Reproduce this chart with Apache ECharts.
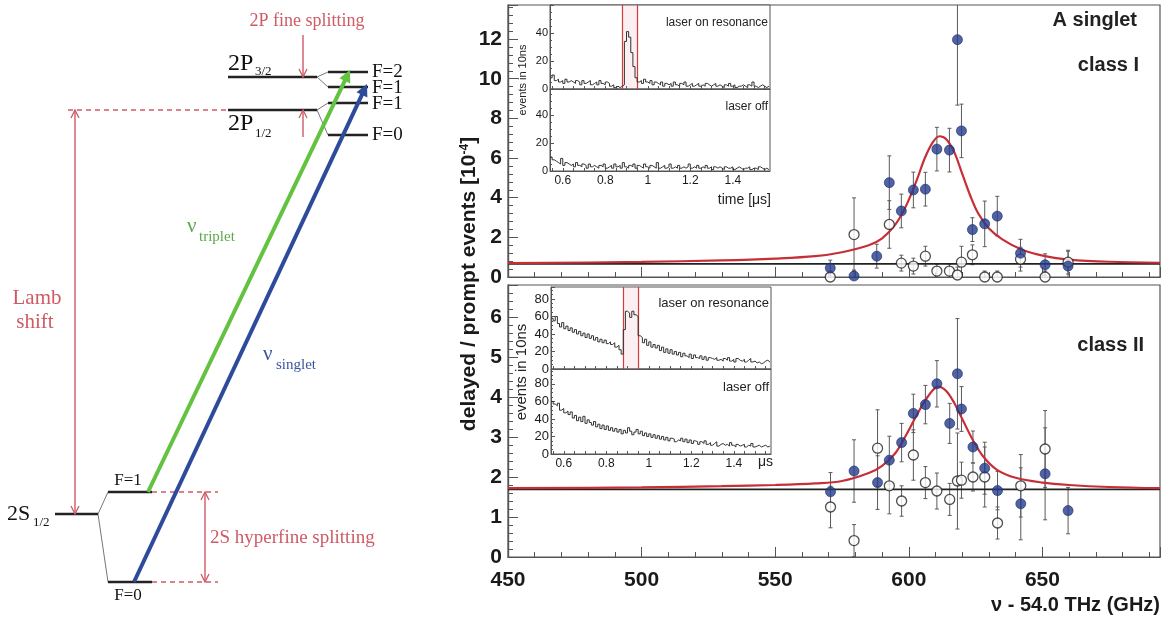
<!DOCTYPE html>
<html>
<head>
<meta charset="utf-8">
<script src="https://cdn.jsdelivr.net/npm/echarts@6/dist/echarts.min.js"></script>
<style>
html, body { margin: 0; padding: 0; background: #fff; }
#chart { width: 1166px; height: 618px; }
</style>
</head>
<body>
<div id="chart"></div>
<script>
// ---------- resonance scan, class I (top panel) ----------
const nuOnI   = [570.6, 579.5, 588.0, 592.7, 597.2, 601.7, 606.2, 610.5, 615.2, 618.2, 619.7, 623.8, 628.4, 633.1, 641.8, 651.0, 659.6];
const valOnI  = [0.45, 0.05, 1.05, 4.76, 3.33, 4.39, 4.43, 6.45, 6.40, 11.97, 7.37, 2.39, 2.68, 3.07, 1.20, 0.62, 0.55];
const errOnI  = [0.40, 0.30, 0.60, 1.35, 0.85, 0.90, 0.85, 1.10, 1.10, 3.30, 1.35, 0.60, 1.15, 1.00, 0.70, 0.55, 0.75];
const nuOffI  = [570.6, 579.5, 592.7, 597.2, 601.7, 606.2, 610.5, 615.2, 618.2, 619.7, 623.8, 628.4, 633.1, 641.8, 651.0, 659.6];
const valOffI = [0.00, 2.14, 2.65, 0.70, 0.55, 1.05, 0.30, 0.30, 0.10, 0.75, 1.12, 0.00, 0.00, 0.90, 0.00, 0.75];
const errOffI = [0.30, 1.85, 1.20, 0.40, 0.40, 0.50, 0.35, 0.35, 0.40, 0.80, 0.50, 0.30, 0.30, 0.60, 0.30, 0.60];
const fitNuI  = [450, 500, 530, 550, 565, 575, 585, 590, 595, 599, 603, 606, 609, 611.5, 614, 617, 620, 623, 626, 630, 635, 642, 651, 660, 675, 694];
const fitValI = [0.70, 0.76, 0.84, 0.93, 1.05, 1.25, 1.60, 1.95, 2.65, 3.60, 4.90, 6.00, 6.80, 7.10, 6.95, 6.30, 5.20, 4.10, 3.20, 2.45, 1.90, 1.40, 1.05, 0.88, 0.77, 0.72];

// ---------- resonance scan, class II (bottom panel) ----------
const nuOnII   = [570.7, 579.5, 588.3, 592.7, 597.3, 601.7, 606.2, 610.5, 615.3, 618.2, 619.7, 624.0, 628.4, 633.2, 641.9, 651.0, 659.6];
const valOnII  = [1.63, 2.15, 1.86, 2.42, 2.86, 3.59, 3.81, 4.33, 3.34, 4.58, 3.70, 2.75, 2.22, 1.66, 1.33, 2.08, 1.16];
const errOnII  = [0.48, 0.78, 0.67, 0.60, 0.48, 0.48, 0.48, 0.58, 0.50, 1.38, 0.56, 0.40, 0.65, 0.48, 0.90, 1.15, 0.58];
const nuOffII  = [570.7, 579.5, 588.3, 592.7, 597.3, 601.7, 606.2, 610.5, 615.3, 618.2, 619.7, 624.0, 628.4, 633.2, 641.9, 651.0];
const valOffII = [1.25, 0.41, 2.72, 1.78, 1.40, 2.55, 1.86, 1.65, 1.44, 1.90, 1.92, 2.00, 2.00, 0.85, 1.78, 2.70];
const errOffII = [0.52, 0.40, 0.96, 0.70, 0.38, 0.63, 0.40, 0.45, 0.40, 1.20, 0.45, 0.35, 0.75, 0.40, 0.78, 0.96];
const fitNuII  = [450, 500, 530, 550, 565, 575, 585, 590, 595, 599, 603, 607, 611, 614, 617, 620, 624, 628, 633, 640, 650, 660, 675, 694];
const fitValII = [1.72, 1.74, 1.77, 1.80, 1.84, 1.90, 2.10, 2.28, 2.60, 3.05, 3.55, 4.00, 4.26, 4.15, 3.85, 3.45, 2.92, 2.50, 2.18, 1.98, 1.86, 1.80, 1.75, 1.72];

// flat background (laser off level)
const bgNu  = [450, 694];
const bgI   = [0.66, 0.66];
const bgII  = [1.69, 1.69];

const xTickLabels    = [450, 500, 550, 600, 650];
const yTickLabelsI   = [0, 2, 4, 6, 8, 10, 12];
const yTickLabelsII  = [0, 1, 2, 3, 4, 5, 6];

// ---------- inset time spectra: events per 10 ns bin, from 0.54 us ----------
const binStart = 0.54;
const binWidth = 0.01;
const histOnI = [
  8, 10, 6, 7, 5, 6, 4, 7, 5, 6,
  5, 4, 6, 5, 3, 6, 4, 5, 6, 3,
  4, 5, 3, 6, 4, 3, 5, 4, 2, 3,
  1, 2, 1, 2, 3, 34, 41, 37, 26, 16,
  8, 5, 6, 4, 7, 5, 4, 6, 3, 5,
  4, 3, 5, 2, 4, 3, 4, 2, 5, 3,
  2, 4, 3, 5, 2, 3, 4, 2, 3, 4,
  2, 3, 2, 4, 3, 2, 3, 4, 2, 3,
  2, 1, 3, 2, 4, 2, 3, 1, 2, 2,
  3, 2, 1, 3, 2, 5, 2, 1, 2, 3,
  2, 1, 2];
const histOffI = [
  10, 8, 7, 6, 5, 9, 4, 6, 5, 4,
  5, 3, 6, 4, 3, 5, 4, 2, 5, 3,
  4, 3, 2, 4, 3, 5, 2, 3, 4, 2,
  5, 3, 4, 2, 6, 3, 2, 4, 3, 5,
  2, 4, 3, 2, 5, 3, 2, 4, 3, 2,
  6, 2, 3, 4, 2, 3, 5, 2, 3, 2,
  4, 2, 3, 2, 3, 5, 2, 3, 2, 4,
  2, 3, 2, 4, 2, 3, 1, 3, 2, 3,
  2, 1, 3, 2, 2, 3, 1, 2, 3, 2,
  1, 2, 2, 3, 1, 2, 2, 1, 3, 2,
  1, 2, 1];
const histOnII = [
  58, 55, 60, 52, 48, 53, 46, 49, 44, 47,
  42, 45, 40, 43, 38, 41, 36, 40, 35, 38,
  33, 36, 31, 34, 30, 33, 29, 31, 28, 30,
  25, 27, 22, 17, 45, 66, 64, 59, 66, 62,
  60, 38, 36, 30, 34, 27, 31, 25, 28, 24,
  27, 21, 25, 19, 23, 18, 22, 17, 20, 16,
  19, 14, 18, 15, 13, 17, 12, 16, 13, 12,
  15, 11, 14, 10, 13, 12, 11, 13, 10, 11,
  9, 12, 10, 13, 9, 11, 8, 12, 10, 9,
  11, 8, 10, 12, 8, 9, 7, 8, 6, 7,
  9, 10, 8];
const histOffII = [
  60, 57, 55, 58, 50, 52, 47, 49, 45, 48,
  41, 44, 38, 42, 37, 43, 35, 39, 36, 33,
  37, 31, 34, 29, 33, 28, 32, 27, 30, 26,
  29, 25, 28, 23, 27, 24, 30, 26, 22, 25,
  28, 23, 26, 21, 24, 20, 23, 19, 22, 18,
  21, 17, 20, 16, 19, 15, 18, 17, 14, 16,
  15, 18, 14, 17, 13, 16, 12, 15, 14, 11,
  14, 12, 15, 11, 13, 10, 12, 14, 9, 11,
  12, 10, 11, 9, 13, 10, 8, 11, 9, 10,
  11, 8, 10, 9, 12, 8, 9, 10, 8, 9,
  10, 8, 9];
const gateWindow = [0.884, 0.955];
const insetTickLabels = [0.6, 0.8, 1, 1.2, 1.4];
const insetTicks = [0.55, 0.6, 0.65, 0.7, 0.75, 0.8, 0.85, 0.9, 0.95, 1, 1.05, 1.1, 1.15, 1.2, 1.25, 1.3, 1.35, 1.4, 1.45, 1.5, 1.55];

// ---------- level scheme (left), drawn on a hidden pixel-like grid ----------
// [x1, y1, x2, y2, heads]  heads: 0 none, 1 at end, 2 both ends
const levelLines = [
  [228, 77, 317, 77], [228, 110, 317, 110],
  [328, 72, 368, 72], [328, 87, 368, 87], [328, 103, 368, 103], [328, 135, 368, 135],
  [55, 514, 98, 514], [108, 492, 152, 492], [108, 582, 152, 582]];
const forkLines = [
  [317, 77, 328, 72], [317, 77, 328, 87], [317, 110, 328, 103], [317, 110, 328, 135],
  [98, 514, 108, 492], [98, 514, 108, 582]];
const dashedLines = [[68, 110, 228, 110], [152, 492, 218, 492], [152, 582, 218, 582]];
const redArrows = [[75, 110, 75, 514, 2], [303, 35, 303, 77, 1], [303, 137, 303, 110, 1], [205, 492, 205, 582, 2]];
const tripletArrow = [[148, 492, 350, 70, 1]];
const singletArrow = [[134, 582, 367, 84, 1]];

const xMin = 450, xMax = 694;
const yMaxI = 13.72, yMaxII = 6.8;
const tMin = 0.54, tMax = 1.575;

const RED = '#cf5a66';
const GREEN = '#63c23f';
const BLUE = '#2d4a9b';
const SANS = '"Liberation Sans", Arial, sans-serif';
const SERIF = '"Liberation Serif", "DejaVu Serif", serif';

function arrowHead(from, to, color, size, open) {
  const ang = Math.atan2(to[1] - from[1], to[0] - from[0]);
  const w = size * 0.5;
  const bx = to[0] - size * Math.cos(ang), by = to[1] - size * Math.sin(ang);
  const p1 = [bx + w * Math.sin(ang), by - w * Math.cos(ang)];
  const p2 = [bx - w * Math.sin(ang), by + w * Math.cos(ang)];
  if (open) return { type: 'polyline', shape: { points: [p1, to, p2] }, style: { stroke: color, lineWidth: 1.3, fill: null } };
  return { type: 'polygon', shape: { points: [to, p1, p2] }, style: { fill: color } };
}

function segments(segs, color, width, dash, headSize, openHead) {
  return {
    type: 'custom', xAxisIndex: 0, yAxisIndex: 0, silent: true, z: 5,
    data: segs,
    renderItem: (params, api) => {
      const a = api.coord([api.value(0), api.value(1)]);
      const b = api.coord([api.value(2), api.value(3)]);
      const heads = api.value(4) || 0;
      let b2 = b;
      if (heads >= 1 && !openHead) {
        const ang = Math.atan2(b[1] - a[1], b[0] - a[0]);
        b2 = [b[0] - headSize * 0.8 * Math.cos(ang), b[1] - headSize * 0.8 * Math.sin(ang)];
      }
      const ch = [{ type: 'line', shape: { x1: a[0], y1: a[1], x2: b2[0], y2: b2[1] },
        style: { stroke: color, lineWidth: width, lineDash: dash || null } }];
      if (heads >= 1) ch.push(arrowHead(a, b, color, headSize, openHead));
      if (heads >= 2) ch.push(arrowHead(b, a, color, headSize, openHead));
      return { type: 'group', children: ch };
    }
  };
}

function errBars(nu, val, err, xi, yi, yMax) {
  return {
    type: 'custom', xAxisIndex: xi, yAxisIndex: yi, silent: true, z: 3,
    data: nu.map((x, i) => [x, val[i], err[i]]),
    renderItem: (params, api) => {
      const x = api.value(0), v = api.value(1), e = api.value(2);
      const a = api.coord([x, Math.max(v - e, 0)]);
      const b = api.coord([x, Math.min(v + e, yMax)]);
      const st = { stroke: '#5a5a5a', lineWidth: 1 };
      const ch = [{ type: 'line', shape: { x1: a[0], y1: a[1], x2: b[0], y2: b[1] }, style: st }];
      if (v + e <= yMax) ch.push({ type: 'line', shape: { x1: b[0] - 2, y1: b[1], x2: b[0] + 2, y2: b[1] }, style: st });
      if (v - e >= 0) ch.push({ type: 'line', shape: { x1: a[0] - 2, y1: a[1], x2: a[0] + 2, y2: a[1] }, style: st });
      return { type: 'group', children: ch };
    }
  };
}

function openPts(nu, val, xi, yi) {
  return { type: 'scatter', xAxisIndex: xi, yAxisIndex: yi, clip: false, z: 4, symbolSize: 10,
    data: nu.map((x, i) => [x, val[i]]),
    itemStyle: { color: '#fff', borderColor: '#222', borderWidth: 1.3 } };
}
function filledPts(nu, val, xi, yi) {
  return { type: 'scatter', xAxisIndex: xi, yAxisIndex: yi, clip: false, z: 5, symbolSize: 10,
    data: nu.map((x, i) => [x, val[i]]),
    itemStyle: { color: '#253c8c', borderColor: '#1b2d6b', borderWidth: 0.8 } };
}
function curve(nu, val, xi, yi, color, width, smooth, z) {
  return { type: 'line', xAxisIndex: xi, yAxisIndex: yi, symbol: 'none', smooth: smooth, z: z,
    data: nu.map((x, i) => [x, val[i]]), lineStyle: { color: color, width: width } };
}
function histo(vals, xi, yi, gate) {
  const d = vals.map((v, i) => [binStart + i * binWidth, v]);
  d.push([binStart + vals.length * binWidth, vals[vals.length - 1]]);
  const s = { type: 'line', xAxisIndex: xi, yAxisIndex: yi, step: 'end', symbol: 'none', z: 6,
    data: d, lineStyle: { color: '#333', width: 1 } };
  if (gate) {
    s.markLine = { silent: true, symbol: 'none', label: { show: false },
      lineStyle: { color: '#d43a3a', width: 1.2, type: 'solid' },
      data: [{ xAxis: gateWindow[0] }, { xAxis: gateWindow[1] }] };
    s.markArea = { silent: true, itemStyle: { color: 'rgba(235,150,160,0.15)' },
      data: [[{ xAxis: gateWindow[0] }, { xAxis: gateWindow[1] }]] };
  }
  return s;
}

const axisGrey = '#555';
function xMain(gridIndex, interval, tickLen, labels) {
  return {
    type: 'value', gridIndex, min: xMin, max: xMax, interval, position: 'bottom',
    axisLine: { show: true, onZero: false, lineStyle: { color: axisGrey, width: 1.2 } },
    axisTick: { show: true, inside: true, length: tickLen, lineStyle: { color: axisGrey } },
    axisLabel: labels ? { show: true, interval: 0, margin: 13, fontSize: 21, fontWeight: 'bold', fontFamily: SANS, color: '#1a1a1a',
      formatter: v => (labels.indexOf(Math.round(v)) >= 0 && Math.abs(v - Math.round(v)) < 1e-6 ? String(Math.round(v)) : '') } : { show: false },
    splitLine: { show: false }
  };
}
function yMain(gridIndex, max, interval, tickLen, labels) {
  return {
    type: 'value', gridIndex, min: 0, max, interval, position: 'left',
    axisLine: { show: true, onZero: false, lineStyle: { color: axisGrey, width: 1.2 } },
    axisTick: { show: true, inside: true, length: tickLen, lineStyle: { color: axisGrey } },
    axisLabel: labels ? { show: true, interval: 0, margin: 6, fontSize: 21, fontWeight: 'bold', fontFamily: SANS, color: '#1a1a1a',
      formatter: v => (labels.indexOf(Math.round(v)) >= 0 && Math.abs(v - Math.round(v)) < 1e-6 ? String(Math.round(v)) : '') } : { show: false },
    splitLine: { show: false }
  };
}
function xInset(gridIndex, showLabels) {
  return {
    type: 'value', gridIndex, min: tMin, max: tMax, position: 'bottom',
    axisLine: { show: true, onZero: false, lineStyle: { color: axisGrey } },
    axisTick: { show: true, inside: true, length: 3, customValues: insetTicks, lineStyle: { color: axisGrey } },
    axisLabel: showLabels ? { show: true, customValues: insetTickLabels, margin: 4, fontSize: 12, fontFamily: SANS, color: '#1a1a1a',
      formatter: v => (insetTickLabels.some(t => Math.abs(t - v) < 1e-6) ? String(v) : '') } : { show: false },
    splitLine: { show: false }
  };
}
function yInset(gridIndex, max, fontSize) {
  return {
    type: 'value', gridIndex, min: 0, max, interval: 20, position: 'left',
    axisLine: { show: true, onZero: false, lineStyle: { color: axisGrey } },
    axisTick: { show: true, inside: true, length: 4, lineStyle: { color: axisGrey } },
    minorTick: { show: true, splitNumber: 4, length: 2, lineStyle: { color: axisGrey } },
    axisLabel: { show: true, showMaxLabel: false, margin: 2, fontSize, fontFamily: SANS, color: '#1a1a1a',
      formatter: v => (Math.abs(v % 20) < 1e-6 ? String(v) : '') },
    splitLine: { show: false }
  };
}

function txt(text, x, y, font, fill, align, extra) {
  return Object.assign({ type: 'text', x, y, silent: true, z: 10,
    style: { text, font, fill, align: align || 'left', verticalAlign: 'middle' } }, extra || {});
}

const chart = echarts.init(document.getElementById('chart'));
const option = {
  animation: false,
  backgroundColor: '#fff',
  grid: [
    { left: 0, top: 0, width: 420, height: 618, show: false },
    { left: 508, top: 5, width: 652, height: 272, show: true, borderColor: axisGrey, borderWidth: 1.2 },
    { left: 508, top: 285, width: 652, height: 272, show: true, borderColor: axisGrey, borderWidth: 1.2 },
    { left: 550, top: 5, width: 220, height: 84, show: true, backgroundColor: '#fff', borderColor: axisGrey, borderWidth: 1 },
    { left: 550, top: 89, width: 220, height: 82, show: true, backgroundColor: '#fff', borderColor: axisGrey, borderWidth: 1 },
    { left: 551, top: 287, width: 220, height: 82, show: true, backgroundColor: '#fff', borderColor: axisGrey, borderWidth: 1 },
    { left: 551, top: 369, width: 220, height: 85, show: true, backgroundColor: '#fff', borderColor: axisGrey, borderWidth: 1 }
  ],
  xAxis: [
    { type: 'value', gridIndex: 0, min: 0, max: 420, show: false },
    xMain(1, 10, 5, null),
    xMain(1, 50, 10, null),
    xMain(2, 10, 5, null),
    xMain(2, 50, 10, xTickLabels),
    xInset(3, false),
    xInset(4, true),
    xInset(5, false),
    xInset(6, true)
  ],
  yAxis: [
    { type: 'value', gridIndex: 0, min: 0, max: 618, inverse: true, show: false },
    yMain(1, yMaxI, 0.4, 5, null),
    yMain(1, yMaxI, 2, 10, yTickLabelsI),
    yMain(2, yMaxII, 0.2, 5, null),
    yMain(2, yMaxII, 1, 10, yTickLabelsII),
    yInset(3, 60, 11),
    yInset(4, 58.6, 11),
    yInset(5, 93.7, 13),
    yInset(6, 97, 13)
  ],
  series: [
    // level scheme
    segments(forkLines, '#666', 0.9, null, 0, false),
    segments(levelLines, '#222', 2.6, null, 0, false),
    segments(dashedLines, RED, 1.4, [5, 4], 0, false),
    segments(redArrows, RED, 1.4, null, 8, true),
    segments(tripletArrow, GREEN, 4, null, 12, false),
    segments(singletArrow, BLUE, 4, null, 12, false),
    // class I
    curve(bgNu, bgI, 1, 1, '#222', 1.6, false, 3),
    curve(fitNuI, fitValI, 1, 1, '#c62f36', 2.2, 0.35, 4),
    errBars(nuOffI, valOffI, errOffI, 1, 1, yMaxI),
    errBars(nuOnI, valOnI, errOnI, 1, 1, yMaxI),
    openPts(nuOffI, valOffI, 1, 1),
    filledPts(nuOnI, valOnI, 1, 1),
    // class II
    curve(bgNu, bgII, 3, 3, '#222', 1.6, false, 3),
    curve(fitNuII, fitValII, 3, 3, '#c62f36', 2.2, 0.35, 4),
    errBars(nuOffII, valOffII, errOffII, 3, 3, yMaxII),
    errBars(nuOnII, valOnII, errOnII, 3, 3, yMaxII),
    openPts(nuOffII, valOffII, 3, 3),
    filledPts(nuOnII, valOnII, 3, 3),
    // insets
    histo(histOnI, 5, 5, true),
    histo(histOffI, 6, 6, false),
    histo(histOnII, 7, 7, true),
    histo(histOffII, 8, 8, false)
  ],
  graphic: { elements: [
    // level scheme labels
    txt('2P fine splitting', 307, 21, '18px ' + SERIF, RED, 'center'),
    txt('2P', 228, 64, '24px ' + SERIF, '#111'),
    txt('3/2', 255, 72, '13px ' + SERIF, '#111'),
    txt('2P', 228, 124, '24px ' + SERIF, '#111'),
    txt('1/2', 255, 134, '13px ' + SERIF, '#111'),
    txt('F=2', 372, 72, '19px ' + SERIF, '#111'),
    txt('F=1', 372, 88, '19px ' + SERIF, '#111'),
    txt('F=1', 372, 104, '19px ' + SERIF, '#111'),
    txt('F=0', 372, 135, '19px ' + SERIF, '#111'),
    txt('Lamb', 37, 298, '21px ' + SERIF, RED, 'center'),
    txt('shift', 35, 322, '21px ' + SERIF, RED, 'center'),
    txt('ν', 187, 226, '21px ' + SERIF, '#5aa84a'),
    txt('triplet', 199, 237, '15px ' + SERIF, '#5aa84a'),
    txt('ν', 263, 354, '21px ' + SERIF, '#3a55a0'),
    txt('singlet', 276, 365, '15px ' + SERIF, '#3a55a0'),
    txt('2S', 7, 514, '22px ' + SERIF, '#111'),
    txt('1/2', 33, 523, '13px ' + SERIF, '#111'),
    txt('F=1', 128, 481, '17px ' + SERIF, '#111', 'center'),
    txt('F=0', 128, 596, '17px ' + SERIF, '#111', 'center'),
    txt('2S hyperfine splitting', 210, 538, '19px ' + SERIF, RED),
    // main plot labels
    { type: 'text', x: 469, y: 284, rotation: Math.PI / 2, silent: true, z: 10,
      style: { text: '{n|delayed / prompt events [10}{s|-4}{n|]}', align: 'center', verticalAlign: 'middle',
        rich: { n: { font: 'bold 21px ' + SANS, fill: '#1a1a1a' },
                s: { font: 'bold 12px ' + SANS, fill: '#1a1a1a', verticalAlign: 'top' } } } },
    txt('A singlet', 1137, 20, 'bold 20px ' + SANS, '#222', 'right'),
    txt('class I', 1139, 65, 'bold 20px ' + SANS, '#222', 'right'),
    txt('class II', 1144, 345, 'bold 20px ' + SANS, '#222', 'right'),
    txt('ν - 54.0 THz (GHz)', 1160, 605, 'bold 20px ' + SANS, '#1a1a1a', 'right'),
    // inset labels
    txt('laser on resonance', 768, 23, '12px ' + SANS, '#222', 'right'),
    txt('laser off', 768, 107, '12px ' + SANS, '#222', 'right'),
    txt('time [μs]', 771, 200, '14px ' + SANS, '#222', 'right'),
    txt('events in 10ns', 523, 80, '11px ' + SANS, '#222', 'center', { rotation: Math.PI / 2 }),
    txt('laser on resonance', 769, 303, '13px ' + SANS, '#222', 'right'),
    txt('laser off', 769, 387, '13px ' + SANS, '#222', 'right'),
    txt('μs', 773, 462, '14px ' + SANS, '#222', 'right'),
    txt('events in 10ns', 522, 372, '15px ' + SANS, '#222', 'center', { rotation: Math.PI / 2 })
  ] }
};
chart.setOption(option);
</script>
</body>
</html>
